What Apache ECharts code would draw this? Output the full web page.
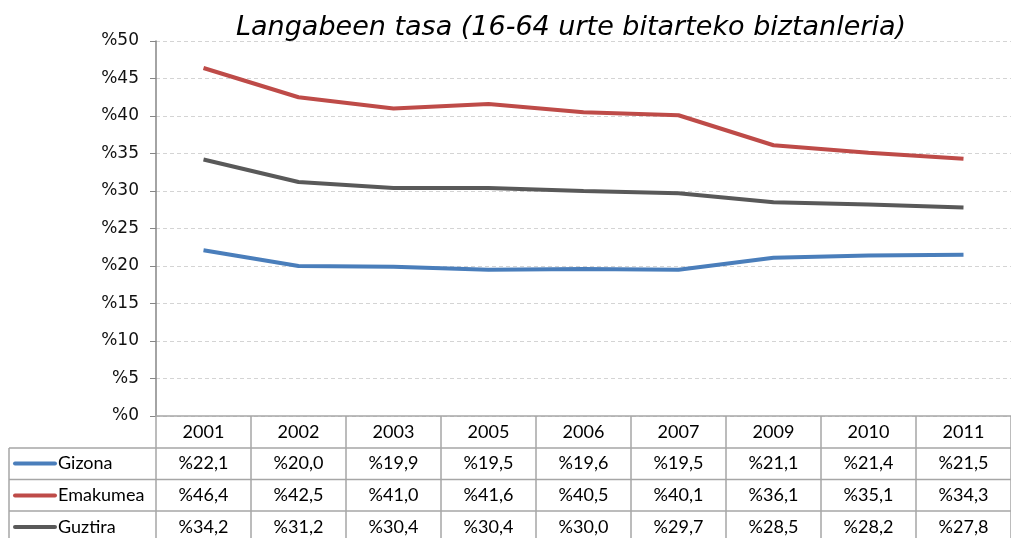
<!DOCTYPE html>
<html>
<head>
<meta charset="utf-8">
<script src="https://cdn.jsdelivr.net/npm/echarts@6/dist/echarts.min.js"></script>
<style>
  html, body { margin: 0; padding: 0; background: #fff; }
  #main { width: 1011px; height: 538px; }
</style>
</head>
<body>
<div id="main"></div>
<script>
var years = ['2001', '2002', '2003', '2005', '2006', '2007', '2009', '2010', '2011'];
var names = ['Gizona', 'Emakumea', 'Guztira'];
var gizona = [22.1, 20.0, 19.9, 19.5, 19.6, 19.5, 21.1, 21.4, 21.5];
var emakumea = [46.4, 42.5, 41.0, 41.6, 40.5, 40.1, 36.1, 35.1, 34.3];
var guztira = [34.2, 31.2, 30.4, 30.4, 30.0, 29.7, 28.5, 28.2, 27.8];
var yTicks = [0, 50, 5]; // min, max, interval

var colors = ['#4a7ebb', '#be4b48', '#595959'];
var rows = [gizona, emakumea, guztira];
var tableFont = 'Lato';
var gridColor = '#a6a6a6';

function pct(v) {
  return '%' + v.toFixed(1).replace('.', ',');
}

var chart = echarts.init(document.getElementById('main'), null, { renderer: 'canvas' });

var gridBox = { left: 156, top: 41, width: 864, height: 375 };
var grids = [gridBox, gridBox, gridBox, gridBox];

var xAxes = [{
  gridIndex: 0,
  type: 'category',
  data: years,
  boundaryGap: true,
  axisLine: { lineStyle: { color: gridColor, width: 1.5 } },
  axisTick: { show: true, length: 130, lineStyle: { color: gridColor, width: 1.5 } },
  axisLabel: {
    margin: 16, verticalAlign: 'middle',
    fontFamily: tableFont, fontSize: 18, color: '#000'
  }
}];
var yAxes = [{
  gridIndex: 0,
  type: 'value',
  min: yTicks[0], max: yTicks[1], interval: yTicks[2],
  axisLine: { show: true, lineStyle: { color: '#868686', width: 1.5 } },
  axisTick: { show: true, length: 6, lineStyle: { color: '#868686' } },
  axisLabel: {
    formatter: '%{value}', margin: 17,
    fontFamily: 'DejaVu Sans', fontSize: 17, color: '#111'
  },
  splitLine: { lineStyle: { color: '#d4d4d4', type: [4, 3] } }
}];

var rowCenters = [463.5, 495.5, 527];
rows.forEach(function (vals, i) {
  xAxes.push({
    gridIndex: i + 1,
    type: 'category',
    data: years,
    axisLine: { show: false },
    axisTick: { show: false },
    axisLabel: {
      margin: rowCenters[i] - 416, verticalAlign: 'middle',
      fontFamily: tableFont, fontSize: 18, color: '#000',
      formatter: function (v, idx) { return pct(vals[idx]); }
    }
  });
  yAxes.push({ gridIndex: i + 1, type: 'value', show: false, min: 0, max: 50 });
});

var graphics = [];
[448, 479.5, 511].forEach(function (y) {
  graphics.push({ type: 'line', shape: { x1: 9, y1: y, x2: 1011, y2: y }, style: { stroke: gridColor, lineWidth: 1.5 } });
});
graphics.push({ type: 'line', shape: { x1: 9, y1: 448, x2: 9, y2: 538 }, style: { stroke: gridColor, lineWidth: 1.5 } });
// row headers: colour key + series name
names.forEach(function (name, i) {
  graphics.push({
    type: 'line',
    shape: { x1: 15, y1: rowCenters[i], x2: 55, y2: rowCenters[i] },
    style: { stroke: colors[i], lineWidth: 4, lineCap: 'round' }
  });
  graphics.push({
    type: 'text', x: 58, y: rowCenters[i],
    style: { text: name, font: '18px ' + tableFont, fill: '#000', verticalAlign: 'middle' }
  });
});

var option = {
  animation: false,
  color: colors,
  title: {
    text: 'Langabeen tasa (16-64 urte bitarteko biztanleria)',
    left: 566, top: 9, textAlign: 'center',
    textStyle: { fontFamily: 'DejaVu Sans', fontStyle: 'italic', fontWeight: 'normal', fontSize: 27, color: '#000' }
  },
  grid: grids,
  xAxis: xAxes,
  yAxis: yAxes,
  graphic: graphics,
  series: rows.map(function (vals, i) {
    return {
      name: names[i],
      type: 'line',
      data: vals,
      symbol: 'none',
      lineStyle: { width: 4 },
      emphasis: { disabled: true }
    };
  })
};

chart.setOption(option);
</script>
</body>
</html>
